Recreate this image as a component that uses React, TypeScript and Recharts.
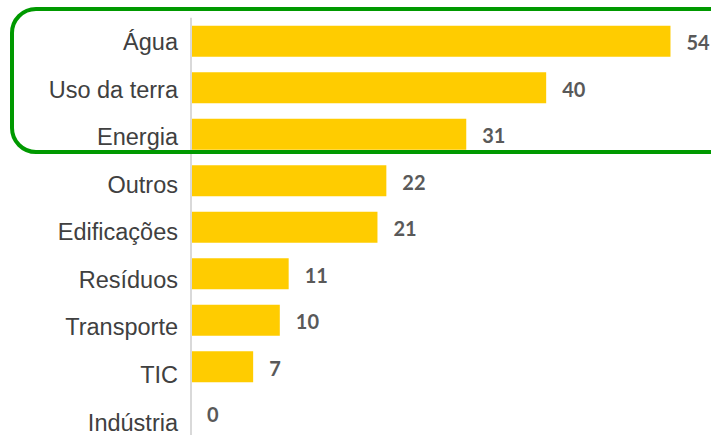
import React from 'react';
import { BarChart, Bar, XAxis, YAxis, LabelList } from 'recharts';

// áreas e número de menções
const categories = ['Água', 'Uso da terra', 'Energia', 'Outros', 'Edificações', 'Resíduos', 'Transporte', 'TIC', 'Indústria'];
const values = [54, 40, 31, 22, 21, 11, 10, 7, 0];

const data = categories.map((name, i) => ({ name, value: values[i] }));

// the category labels in the original drift down a little row by row
const CategoryTick = (props: any) => {
  const { x, y, payload, index } = props;
  return (
    <text
      x={x}
      y={y}
      dy={9 + index * 1.07}
      textAnchor="end"
      fill="#404040"
      fontSize={23.5}
      fontFamily="'Liberation Sans', Arial, sans-serif"
    >
      {payload.value}
    </text>
  );
};

export default function App() {
  return (
    <div style={{ position: 'absolute', left: 0, top: 0, width: 711, height: 435, overflow: 'hidden', background: '#fff' }}>
      <BarChart
        width={711}
        height={440}
        data={data}
        layout="vertical"
        margin={{ top: 17.75, right: 5, bottom: 3.75, left: 0 }}
        barSize={31}
      >
        <XAxis type="number" domain={[0, 58]} hide />
        <YAxis
          type="category"
          dataKey="name"
          width={191}
          axisLine={{ stroke: '#d9d9d9', strokeWidth: 2 }}
          tickLine={false}
          tickMargin={7}
          tick={<CategoryTick />}
        />
        <Bar dataKey="value" fill="#FFCC00" minPointSize={0.01} isAnimationActive={false}>
          <LabelList
            dataKey="value"
            position="right"
            offset={16}
            dy={2}
            fill="#595959"
            fontSize={20}
            fontWeight="bold"
            fontFamily="Lato, 'Open Sans', sans-serif"
          />
        </Bar>
      </BarChart>
      <div
        style={{
          position: 'absolute',
          left: 10,
          top: 7,
          width: 740,
          height: 139,
          border: '4px solid #009900',
          borderRadius: 26,
          pointerEvents: 'none',
        }}
      />
    </div>
  );
}
